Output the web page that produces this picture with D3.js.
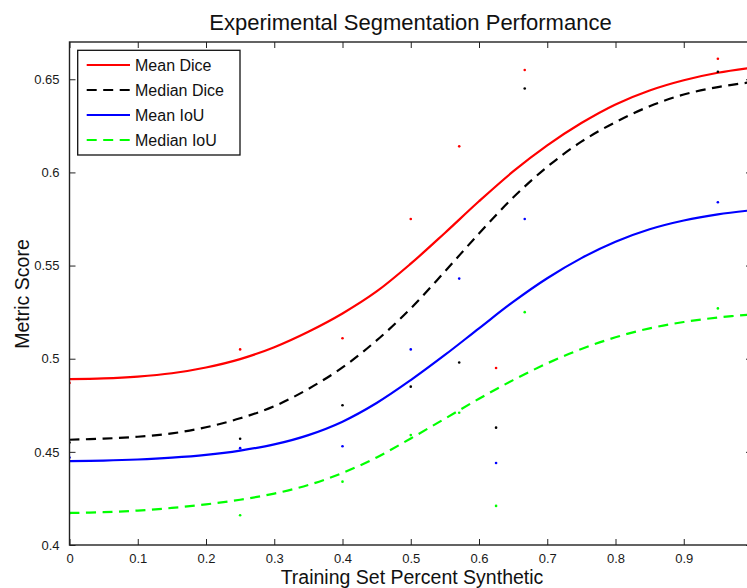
<!DOCTYPE html>
<html>
<head>
<meta charset="utf-8">
<script src="https://cdn.jsdelivr.net/npm/d3@7"></script>
<style>
  body { margin: 0; background: #fff; }
  svg { display: block; font-family: "Liberation Sans", Arial, Helvetica, sans-serif; }
</style>
</head>
<body>
<script>
// measured sample points (percent synthetic)
var sampleX = [0, 0.25, 0.4, 0.5, 0.571, 0.625, 0.667, 0.95];
var meanDicePts   = [0.487, 0.505, 0.511, 0.575, 0.614, 0.495, 0.655, 0.661];
var medianDicePts = [0.455, 0.457, 0.475, 0.485, 0.498, 0.463, 0.645, 0.654];
var meanIoUPts    = [0.447, 0.452, 0.453, 0.505, 0.543, 0.444, 0.575, 0.584];
var medianIoUPts  = [0.417, 0.416, 0.434, 0.459, 0.471, 0.421, 0.525, 0.527];

// fitted curves
var fitX = [0, 0.05, 0.1, 0.15, 0.2, 0.25, 0.3, 0.35, 0.4, 0.45, 0.5, 0.55, 0.6, 0.65, 0.7, 0.75, 0.8, 0.85, 0.9, 0.95, 1.0];
var meanDiceFit   = [0.489, 0.4894, 0.4904, 0.4922, 0.4953, 0.4998, 0.5062, 0.5145, 0.5243, 0.5361, 0.551, 0.5675, 0.5845, 0.6005, 0.6145, 0.6265, 0.6365, 0.644, 0.6495, 0.6535, 0.6562];
var medianDiceFit = [0.4565, 0.4571, 0.4581, 0.4599, 0.4632, 0.468, 0.4745, 0.4838, 0.4953, 0.5098, 0.527, 0.5468, 0.5672, 0.5865, 0.603, 0.6165, 0.627, 0.6355, 0.6418, 0.6458, 0.6485];
var meanIoUFit    = [0.445, 0.4453, 0.4459, 0.4469, 0.4484, 0.4507, 0.454, 0.459, 0.4662, 0.4762, 0.4885, 0.502, 0.5163, 0.5305, 0.5432, 0.554, 0.5628, 0.5695, 0.5742, 0.5775, 0.5797];
var medianIoUFit  = [0.4172, 0.4176, 0.4185, 0.4199, 0.4218, 0.4243, 0.4276, 0.4322, 0.4387, 0.447, 0.4572, 0.4678, 0.4785, 0.4885, 0.4975, 0.5052, 0.5115, 0.5163, 0.5197, 0.5221, 0.5238];

var xTicks = [0, 0.1, 0.2, 0.3, 0.4, 0.5, 0.6, 0.7, 0.8, 0.9];
var yTicks = [0.4, 0.45, 0.5, 0.55, 0.6, 0.65];

var series = [
  {name: "Mean Dice",   color: "#ff0000", dash: null,     pts: meanDicePts,   fit: meanDiceFit},
  {name: "Median Dice", color: "#000000", dash: "10,6.5", pts: medianDicePts, fit: medianDiceFit},
  {name: "Mean IoU",    color: "#0000ff", dash: null,     pts: meanIoUPts,    fit: meanIoUFit},
  {name: "Median IoU",  color: "#00ff00", dash: "10,6.5", pts: medianIoUPts,  fit: medianIoUFit}
];

var W = 747, H = 588;
var margin = {left: 69.5, top: 42, right: 752, bottom: 545};

var x = d3.scaleLinear().domain([0, 1]).range([margin.left, margin.right]);
var y = d3.scaleLinear().domain([0.4, 0.67]).range([margin.bottom, margin.top]);

var svg = d3.select("body").append("svg")
  .attr("width", W)
  .attr("height", H);

svg.append("defs").append("clipPath").attr("id", "plotclip")
  .append("rect")
  .attr("x", margin.left).attr("y", margin.top)
  .attr("width", margin.right - margin.left)
  .attr("height", margin.bottom - margin.top);

// axes with inward ticks, box style
var fmt = function(d) { return d3.format("")(+d.toFixed(2)); };

svg.append("g")
  .attr("transform", "translate(0," + margin.bottom + ")")
  .call(d3.axisBottom(x).tickValues(xTicks).tickSizeInner(-6).tickSizeOuter(0).tickPadding(8.5).tickFormat(fmt))
  .call(function(g) {
    g.select(".domain").remove();
    g.selectAll("text").attr("font-size", 13).attr("fill", "#1a1a1a").attr("font-family", null);
  });

svg.append("g")
  .attr("transform", "translate(" + margin.left + ",0)")
  .call(d3.axisLeft(y).tickValues(yTicks).tickSizeInner(-6).tickSizeOuter(0).tickPadding(10).tickFormat(fmt))
  .call(function(g) {
    g.select(".domain").remove();
    g.selectAll("text").attr("font-size", 13).attr("fill", "#1a1a1a").attr("font-family", null);
  });

svg.append("g")
  .attr("transform", "translate(0," + margin.top + ")")
  .call(d3.axisTop(x).tickValues(xTicks).tickSizeInner(-6).tickSizeOuter(0).tickFormat(""))
  .call(function(g) { g.select(".domain").remove(); });

svg.append("g")
  .attr("transform", "translate(" + margin.right + ",0)")
  .call(d3.axisRight(y).tickValues(yTicks).tickSizeInner(-6).tickSizeOuter(0).tickFormat(""))
  .call(function(g) { g.select(".domain").remove(); });

svg.selectAll(".tick line").attr("stroke", "#222").attr("stroke-width", 1);

var plot = svg.append("g").attr("clip-path", "url(#plotclip)");

var line = d3.line()
  .x(function(d) { return x(d[0]); })
  .y(function(d) { return y(d[1]); })
  .curve(d3.curveCatmullRom.alpha(0.5));

series.forEach(function(s) {
  plot.append("path")
    .datum(d3.zip(fitX, s.fit))
    .attr("fill", "none")
    .attr("stroke", s.color)
    .attr("stroke-width", 2.2)
    .attr("stroke-dasharray", s.dash)
    .attr("d", line);

  plot.selectAll(null)
    .data(d3.zip(sampleX, s.pts))
  .enter().append("circle")
    .attr("cx", function(d) { return x(d[0]); })
    .attr("cy", function(d) { return y(d[1]); })
    .attr("r", 1.3)
    .attr("fill", s.color);
});

// box
svg.append("rect")
  .attr("x", margin.left).attr("y", margin.top)
  .attr("width", margin.right - margin.left)
  .attr("height", margin.bottom - margin.top)
  .attr("fill", "none")
  .attr("stroke", "#222")
  .attr("stroke-width", 1.4);

// legend
var lg = svg.append("g");
lg.append("rect")
  .attr("x", 77.7).attr("y", 50.3)
  .attr("width", 162.3).attr("height", 104.7)
  .attr("fill", "#fff")
  .attr("stroke", "#111")
  .attr("stroke-width", 1.3);

var rowY = d3.scalePoint().domain(series.map(function(s) { return s.name; })).range([65, 140]);

series.forEach(function(s) {
  var yy = rowY(s.name);
  lg.append("line")
    .attr("x1", 86.7).attr("x2", 130)
    .attr("y1", yy).attr("y2", yy)
    .attr("stroke", s.color)
    .attr("stroke-width", 2.2)
    .attr("stroke-dasharray", s.dash);
  lg.append("text")
    .attr("x", 135).attr("y", yy + 6)
    .attr("font-size", 16)
    .attr("fill", "#111")
    .text(s.name);
});

// titles
svg.append("text")
  .attr("x", 410.5).attr("y", 29.5)
  .attr("text-anchor", "middle")
  .attr("font-size", 22)
  .attr("fill", "#111")
  .text("Experimental Segmentation Performance");

svg.append("text")
  .attr("x", 412).attr("y", 584)
  .attr("text-anchor", "middle")
  .attr("font-size", 19.5)
  .attr("fill", "#111")
  .text("Training Set Percent Synthetic");

svg.append("text")
  .attr("transform", "translate(28.5,294) rotate(-90)")
  .attr("text-anchor", "middle")
  .attr("font-size", 19.5)
  .attr("fill", "#111")
  .text("Metric Score");
</script>
</body>
</html>
